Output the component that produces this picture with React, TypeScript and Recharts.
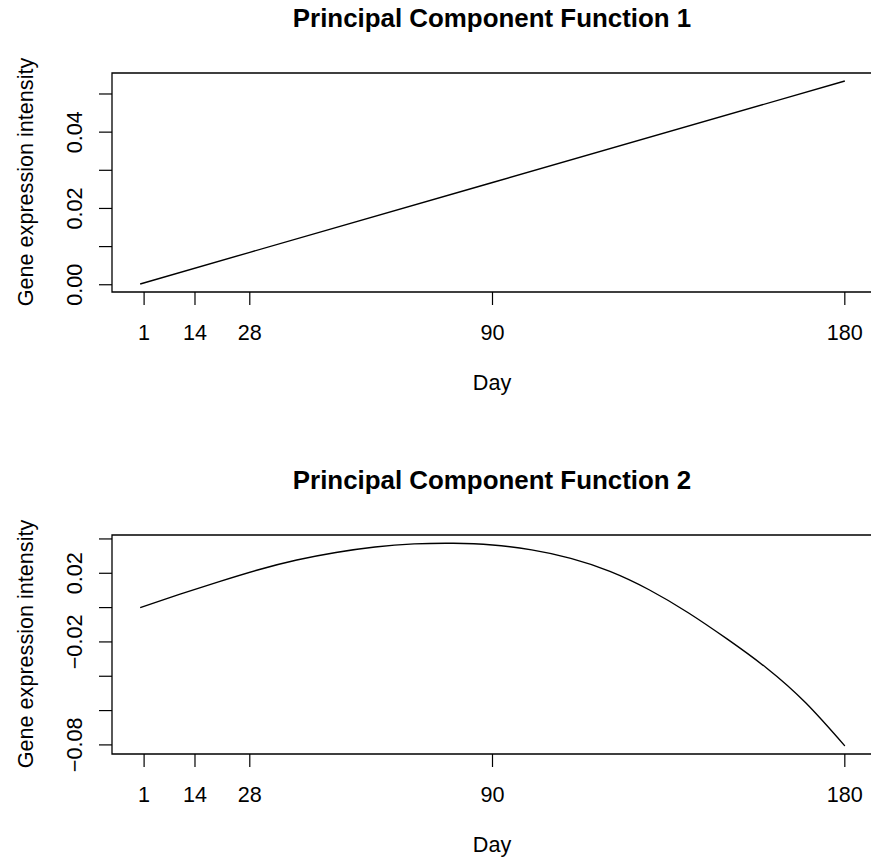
import { LineChart, Line, XAxis, YAxis, ReferenceArea } from 'recharts';

const dayTicks = [1, 14, 28, 90, 180];
const dayDomain = [-7.2, 187.2];

const pc1Days = [0, 28, 90, 180];
const pc1Values = [0.0002, 0.0085, 0.0268, 0.0534];

const pc2Days = [0, 10, 20, 30, 40, 50, 60, 70, 80, 90, 100, 110, 120, 130, 140, 150, 160, 170, 180];
const pc2Values = [
  0.0, 0.0077, 0.015, 0.0219, 0.0277, 0.0321, 0.0353, 0.0371, 0.0375, 0.0365,
  0.0336, 0.0287, 0.0211, 0.0104, -0.003, -0.0184, -0.0352, -0.0555, -0.0806,
];

const pc1Ticks = [0, 0.01, 0.02, 0.03, 0.04, 0.05];
const pc1TickLabels = ['0.00', '', '0.02', '', '0.04', ''];
const pc2Ticks = [-0.08, -0.06, -0.04, -0.02, 0, 0.02, 0.04];
const pc2TickLabels = ['\u22120.08', '', '', '\u22120.02', '', '0.02', ''];

const FONT = '"Liberation Sans", Arial, Helvetica, sans-serif';
const AXIS_FS = 21.6;

const toRows = (days: number[], vals: number[]) => days.map((d, i) => ({ day: d, value: vals[i] }));

function YTick(props: any) {
  const { y, payload, ticks, labels } = props;
  const idx = ticks.indexOf(payload.value);
  const txt = idx >= 0 ? labels[idx] : '';
  if (!txt) return null;
  return (
    <text
      transform={`translate(81.7, ${y}) rotate(-90)`}
      textAnchor="middle"
      fontSize={AXIS_FS}
      fontFamily={FONT}
      fill="#000"
    >
      {txt}
    </text>
  );
}

function Panel({ top, data, yDomain, yTicks, yLabels, curve }: any) {
  return (
    <div style={{ position: 'absolute', left: 0, top, width: 873, height: 430 }}>
      <LineChart width={873} height={430} data={data} margin={{ top: 73, right: 0, left: 0, bottom: 0 }}>
        <XAxis
          dataKey="day"
          type="number"
          domain={dayDomain}
          ticks={dayTicks}
          interval={0}
          allowDataOverflow
          axisLine={false}
          tickLine={{ stroke: '#000', strokeWidth: 1.2 }}
          tickSize={13}
          tickMargin={20}
          height={138}
          tick={{ fill: '#000', fontSize: AXIS_FS, fontFamily: FONT }}
        />
        <YAxis
          type="number"
          domain={yDomain}
          ticks={yTicks}
          interval={0}
          allowDataOverflow
          width={112}
          axisLine={false}
          tickLine={{ stroke: '#000', strokeWidth: 1.2 }}
          tickSize={13}
          tick={<YTick ticks={yTicks} labels={yLabels} />}
        />
        <ReferenceArea
          x1={dayDomain[0]}
          x2={dayDomain[1]}
          y1={yDomain[0]}
          y2={yDomain[1]}
          fill="none"
          fillOpacity={0}
          stroke="#000"
          strokeWidth={1.3}
        />
        <Line
          type={curve}
          dataKey="value"
          stroke="#000"
          strokeWidth={1.4}
          dot={false}
          activeDot={false}
          isAnimationActive={false}
        />
      </LineChart>
    </div>
  );
}

export default function App() {
  const titles = [
    { text: 'Principal Component Function 1', off: 0 },
    { text: 'Principal Component Function 2', off: 462 },
  ];
  return (
    <div style={{ position: 'absolute', left: 0, top: 0, width: 871, height: 862, overflow: 'hidden', background: '#fff' }}>
      <Panel
        top={0}
        data={toRows(pc1Days, pc1Values)}
        yDomain={[-0.0019, 0.0555]}
        yTicks={pc1Ticks}
        yLabels={pc1TickLabels}
        curve="linear"
      />
      <Panel
        top={462}
        data={toRows(pc2Days, pc2Values)}
        yDomain={[-0.0853, 0.0423]}
        yTicks={pc2Ticks}
        yLabels={pc2TickLabels}
        curve="natural"
      />
      <svg width={871} height={862} style={{ position: 'absolute', left: 0, top: 0, pointerEvents: 'none' }}>
        {titles.map((t) => (
          <g key={t.text} fontFamily={FONT} fill="#000">
            <text x={492} y={27.3 + t.off} textAnchor="middle" fontSize={25.9} fontWeight="bold">
              {t.text}
            </text>
            <text x={492} y={390 + t.off} textAnchor="middle" fontSize={AXIS_FS}>
              Day
            </text>
            <text
              transform={`translate(33, ${182 + t.off}) rotate(-90)`}
              textAnchor="middle"
              fontSize={AXIS_FS}
            >
              Gene expression intensity
            </text>
          </g>
        ))}
      </svg>
    </div>
  );
}
